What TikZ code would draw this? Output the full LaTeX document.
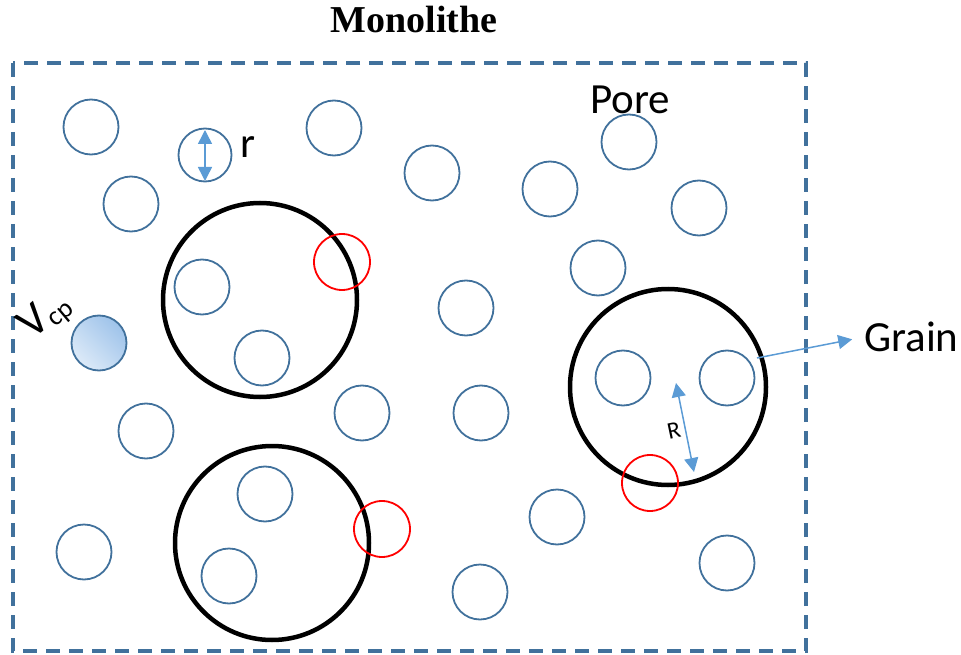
\documentclass[tikz,border=0pt]{standalone}
\usepackage{fontspec}
\setmainfont{Carlito}
\newfontfamily\timesbf{Liberation Serif}
\usetikzlibrary{arrows.meta}
\definecolor{poreblue}{HTML}{41719C}
\definecolor{arrowblue}{HTML}{5B9BD5}
\definecolor{fillA}{HTML}{DDEAF8}
\definecolor{fillB}{HTML}{9EC3EA}
\tikzset{
  pore/.style={circle,draw=poreblue,line width=1.8pt,minimum size=55pt,inner sep=0pt},
  grain/.style={circle,draw=black,line width=4.5pt,inner sep=0pt},
  redc/.style={circle,draw=red,line width=1.8pt,minimum size=56pt,inner sep=0pt},
  lbl/.style={font=\fontsize{43}{45}\selectfont,inner sep=0pt},
  barrow/.style={draw=arrowblue,line width=1.5pt,-{Triangle[length=14pt,width=14pt]}},
  dbarrow/.style={draw=arrowblue,line width=1.5pt,{Triangle[length=14pt,width=14pt]}-{Triangle[length=14pt,width=14pt]}}
}
\begin{document}
\begin{tikzpicture}[x=1pt,y=-1pt]
\useasboundingbox (0,0) rectangle (961,655);
% border
\draw[poreblue,line width=4pt,dash pattern=on 14pt off 9pt] (13,63) rectangle (806,651);
\node[font=\timesbf\bfseries\fontsize{38}{40}\selectfont,inner sep=0pt] (title) at (414,20) {Monolithe};
% pores
\node[pore] (p1) at (91,127) {};
\node[pore,minimum size=53pt] (p2) at (205,155) {};
\node[pore] (p3) at (334,128) {};
\node[pore] (p4) at (131,204) {};
\node[pore] (p5) at (432,173) {};
\node[pore] (p6) at (550,189) {};
\node[pore] (p7) at (629,142) {};
\node[pore] (p8) at (699,208) {};
\node[pore] (p9) at (598,268) {};
\node[pore] (p10) at (202,287) {};
\node[pore] (p11) at (262,358) {};
\node[pore] (p12) at (466,308) {};
\node[pore,top color=fillA,bottom color=fillB,shading angle=135] (vcp) at (99,343) {};
\node[pore] (p14) at (146,431) {};
\node[pore] (p15) at (362,413) {};
\node[pore] (p16) at (481,413) {};
\node[pore] (p17) at (623,378) {};
\node[pore] (p18) at (727,378) {};
\node[pore] (p19) at (265,494) {};
\node[pore] (p20) at (229,576) {};
\node[pore] (p21) at (84,552) {};
\node[pore] (p22) at (557,517) {};
\node[pore] (p23) at (480,592) {};
\node[pore] (p24) at (727,563) {};
% grains
\node[grain,minimum size=194pt] (gA) at (260,300) {};
\node[grain,minimum size=194pt] (gB) at (272,543) {};
\node[grain,minimum size=196pt] (gC) at (668,387) {};
% red circles
\node[redc] (r1) at (342,262) {};
\node[redc] (r2) at (382,529) {};
\node[redc] (r3) at (650,483) {};
% labels
\node[lbl] (pore) at (630,100) {Pore};
\node[lbl] (rl) at (248,147) {r};
\node[lbl,anchor=west] (grainl) at (864,337) {Grain};
\node[font=\fontsize{24}{26}\selectfont,inner sep=0pt,rotate=12] (Rl) at (674,431) {R};
\node[inner sep=0pt,rotate=40] (vl) at (46,316) {\fontsize{46}{48}\selectfont V\raisebox{-5pt}{\fontsize{27}{29}\selectfont cp}};
% arrows
\coordinate (ra) at (205,130);
\coordinate (rb) at (205,181);
\draw[dbarrow] (ra) -- (rb);
\coordinate (Ra) at (676,383);
\coordinate (Rb) at (694,472);
\draw[dbarrow] (Ra) -- (Rb);
\coordinate (gs) at (757,358);
\draw[barrow,shorten >=12pt] (gs) -- (grainl.west);
\end{tikzpicture}
\end{document}
